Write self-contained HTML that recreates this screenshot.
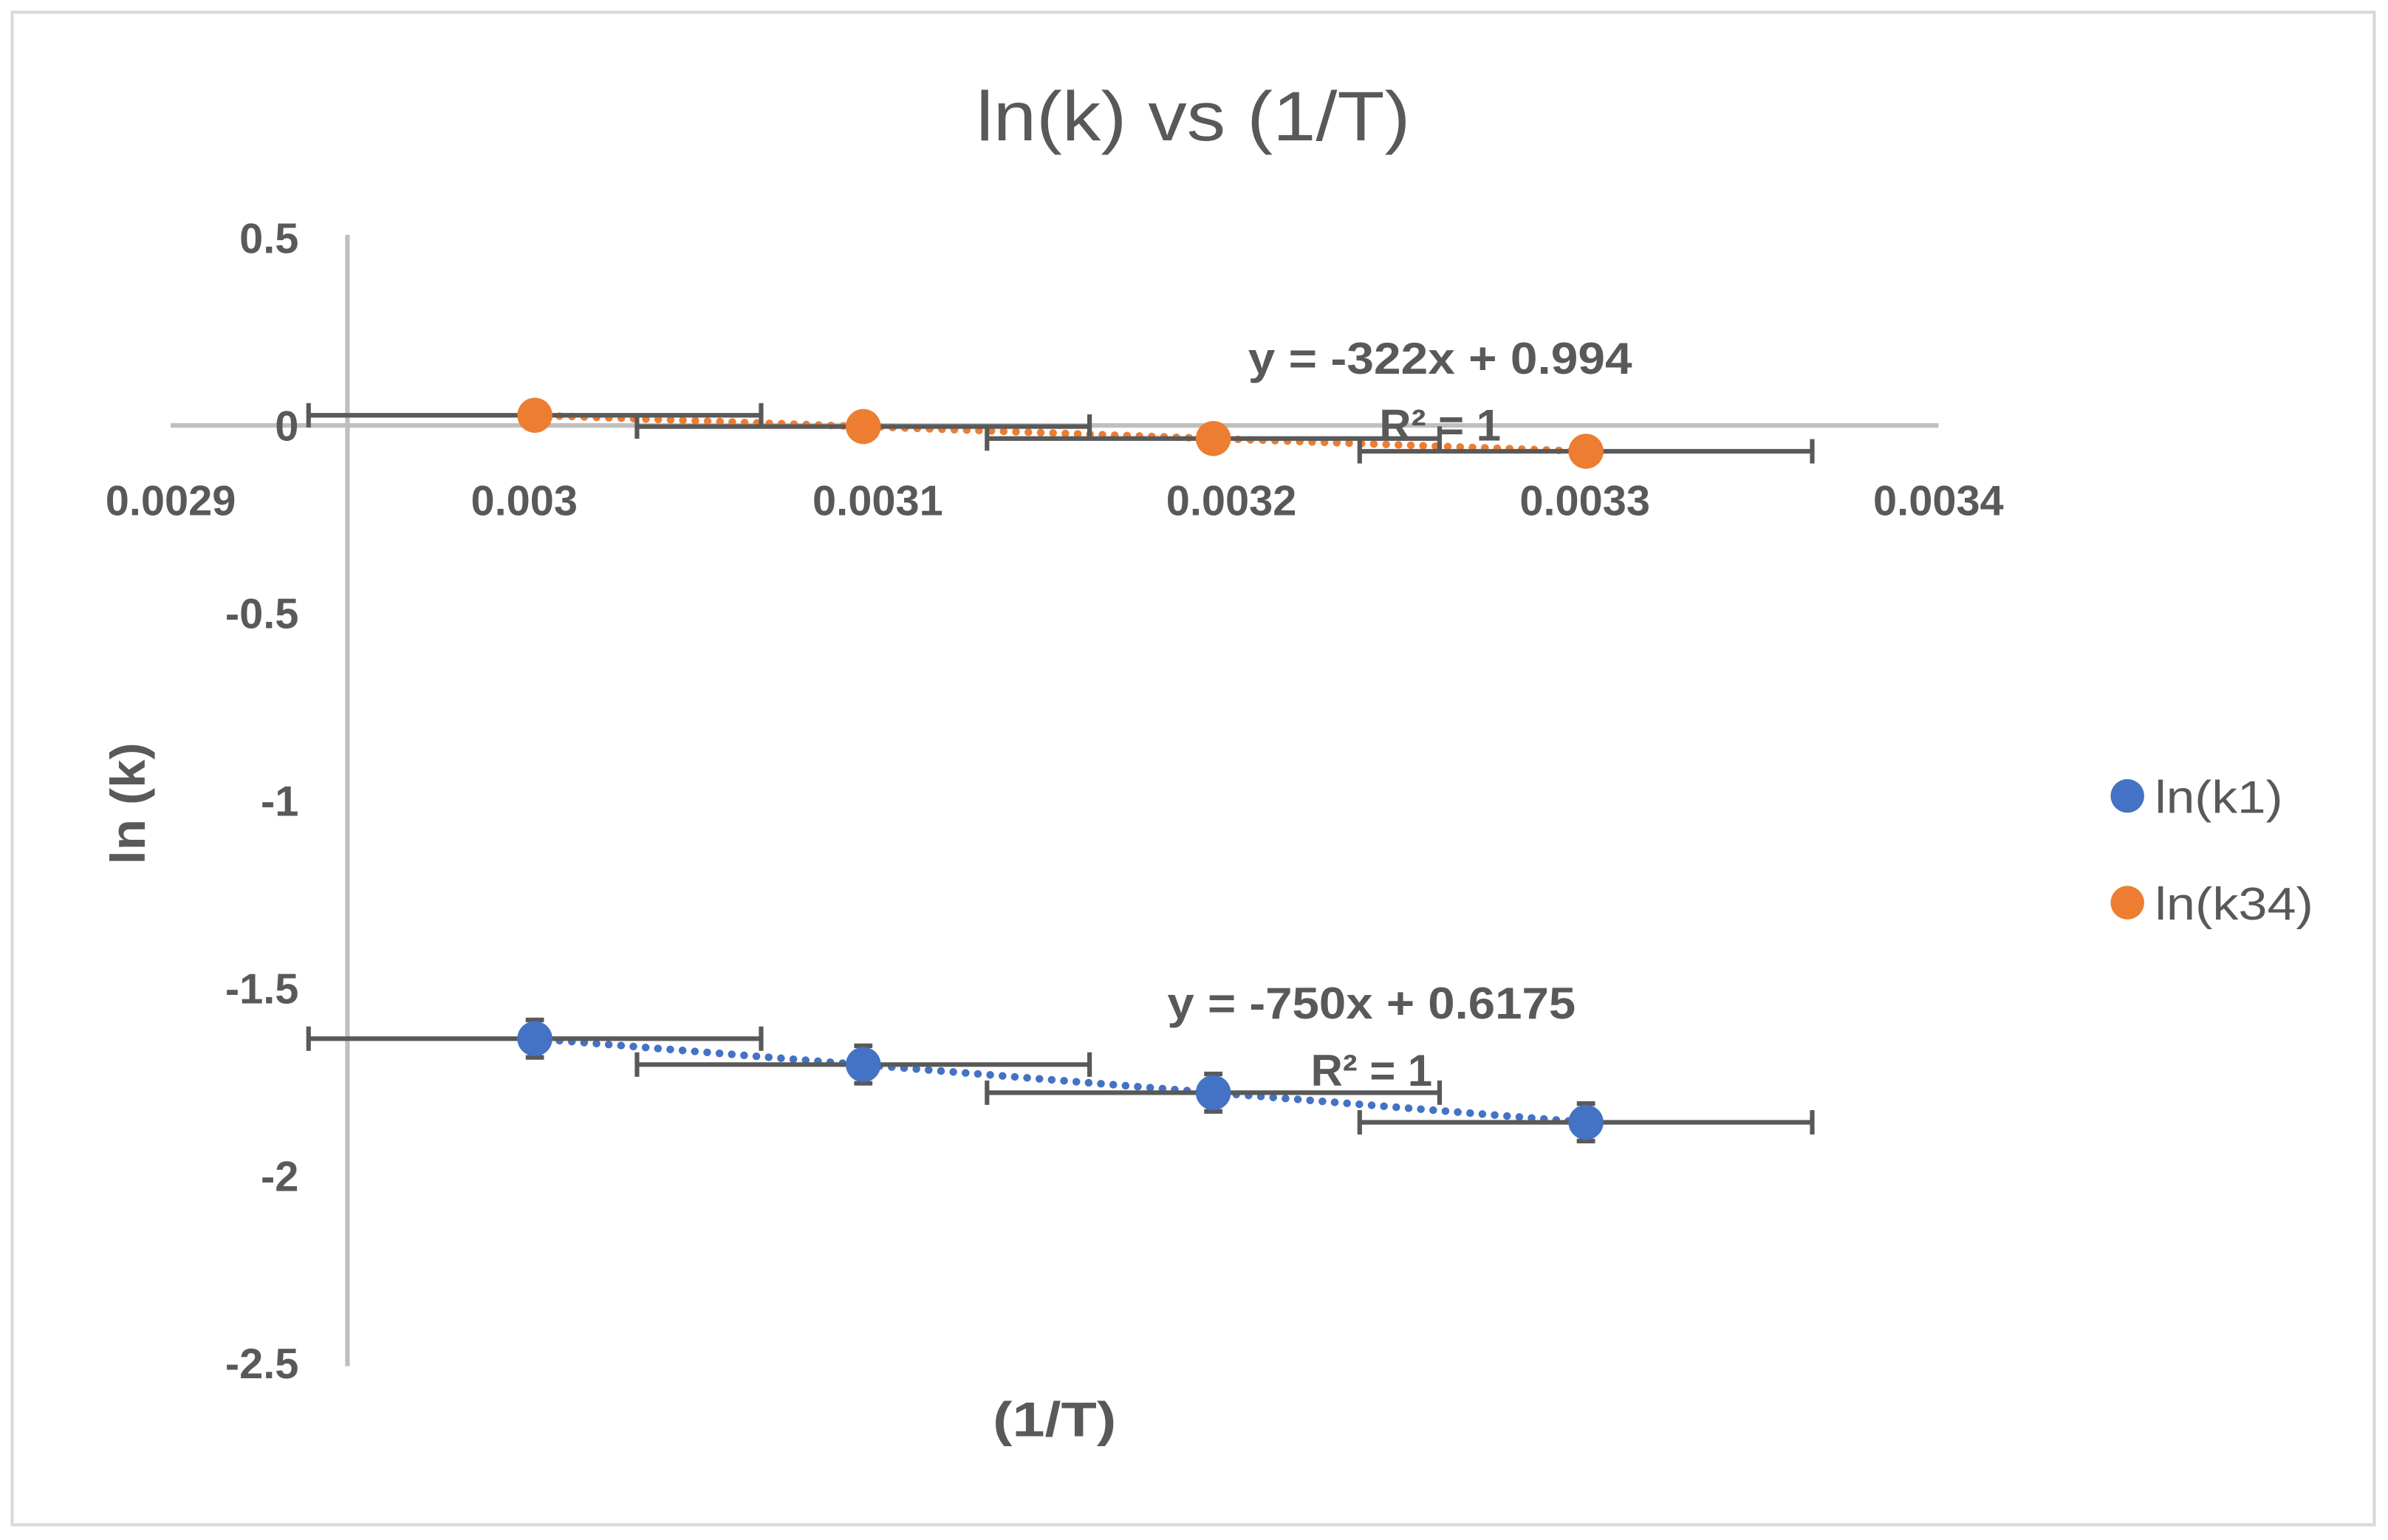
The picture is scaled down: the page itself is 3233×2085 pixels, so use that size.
<!DOCTYPE html>
<html><head><meta charset="utf-8"><style>
html,body{margin:0;padding:0;background:#fff;}
svg{display:block;}
text{font-family:"Liberation Sans",sans-serif;fill:#595959;}
</style></head><body>
<svg id="chart" width="3233" height="2085" viewBox="0 0 1567 1010" preserveAspectRatio="none" xmlns="http://www.w3.org/2000/svg">
<rect x="8" y="8" width="1550" height="992" fill="#fff" stroke="#d9d9d9" stroke-width="2"/>
<text x="783" y="92" font-size="46" text-anchor="middle" textLength="285" lengthAdjust="spacingAndGlyphs">ln(k) vs (1/T)</text>
<g id="axes"></g>
<g id="series"></g>
<text transform="translate(95,527) rotate(-90)" font-size="32" font-weight="bold" text-anchor="middle" textLength="80" lengthAdjust="spacingAndGlyphs">ln (k)</text>
<text x="692" y="942" font-size="32" font-weight="bold" text-anchor="middle" textLength="81" lengthAdjust="spacingAndGlyphs">(1/T)</text>
<g>
<circle cx="1396" cy="522" r="11" fill="#4472c4"/>
<text x="1414" y="533" font-size="30" textLength="84" lengthAdjust="spacingAndGlyphs">ln(k1)</text>
<circle cx="1396" cy="592" r="11" fill="#ed7d31"/>
<text x="1414" y="603" font-size="30" textLength="104" lengthAdjust="spacingAndGlyphs">ln(k34)</text>
</g>
</svg>
<script>
const xTicks = [0.0029, 0.003, 0.0031, 0.0032, 0.0033, 0.0034];
const xTickLabels = ["0.0029", "0.003", "0.0031", "0.0032", "0.0033", "0.0034"];
const yTicks = [0.5, 0, -0.5, -1, -1.5, -2, -2.5];
const yTickLabels = ["0.5", "0", "-0.5", "-1", "-1.5", "-2", "-2.5"];
const xValues = [0.003003, 0.0030959, 0.0031949, 0.0033003];
const k34Values = [0.027, -0.003, -0.035, -0.069];
const k1Values = [-1.635, -1.704, -1.779, -1.858];
const xErr = [0.000064, 0.000064, 0.000064, 0.000064];
const k1YErr = [0.05, 0.05, 0.05, 0.05];
const k34YErr = [0.01, 0.01, 0.01, 0.01];
const trendK34 = ["y = -322x + 0.994", "R² = 1"];
const trendK1 = ["y = -750x + 0.6175", "R² = 1"];

const NS = "http://www.w3.org/2000/svg";
function X(v){ return 112 + (v - 0.0029) / 0.0001 * 232; }
function Y(v){ return 279 - v * 246; }
function mk(parent, tag, attrs){ const e = document.createElementNS(NS, tag); for (const k in attrs) e.setAttribute(k, attrs[k]); parent.appendChild(e); return e; }
const axes = document.getElementById('axes');
const ser = document.getElementById('series');

let a = mk(axes, 'line', {x1: X(0.0029), x2: X(0.0034), y1: Y(0), y2: Y(0), stroke: '#bfbfbf', 'stroke-width': 3});


a = mk(axes, 'line', {x1: X(0.00295), x2: X(0.00295), y1: Y(0.5) - 2, y2: Y(-2.5) + 2, stroke: '#bfbfbf', 'stroke-width': 3});



xTicks.forEach((v, i) => {
  const t = mk(axes, 'text', {x: X(v), y: 338, 'font-size': 28, 'font-weight': 'bold', 'text-anchor': 'middle'});
  t.textContent = xTickLabels[i];
  
  
});
yTicks.forEach((v, i) => {
  const t = mk(axes, 'text', {x: 196, y: Y(v) + 10, 'font-size': 28, 'font-weight': 'bold', 'text-anchor': 'end'});
  t.textContent = yTickLabels[i];
  
  
});

function drawSeries(name, ys, yerr, color, eq, eqPos, eqW){
  const g = mk(ser, 'g', {});
  
  
  const tl = mk(g, 'line', {x1: X(xValues[0]), y1: Y(ys[0]), x2: X(xValues[xValues.length-1]), y2: Y(ys[ys.length-1]), stroke: color, 'stroke-width': 5, 'stroke-dasharray': '0.1 8', 'stroke-linecap': 'round'});
  
  
  xValues.forEach((xv, i) => {
    const y = Y(ys[i]);
    const eb = mk(g, 'path', {d: `M${X(xv - xErr[i])} ${y}H${X(xv + xErr[i])}M${X(xv - xErr[i])} ${y-8}V${y+8}M${X(xv + xErr[i])} ${y-8}V${y+8}` +
      `M${X(xv)} ${Y(ys[i] + yerr[i])}V${Y(ys[i] - yerr[i])}M${X(xv)-6} ${Y(ys[i] + yerr[i])}H${X(xv)+6}M${X(xv)-6} ${Y(ys[i] - yerr[i])}H${X(xv)+6}`,
      stroke: '#595959', 'stroke-width': 3, fill: 'none'});
    
    
  });
  xValues.forEach((xv, i) => {
    const c = mk(g, 'circle', {cx: X(xv), cy: Y(ys[i]), r: 11.5, fill: color});
    
    
  });
  const t1 = mk(g, 'text', {x: eqPos[0], y: eqPos[1], 'font-size': 29, 'font-weight': 'bold', 'text-anchor': 'middle', textLength: eqW, lengthAdjust: 'spacingAndGlyphs'});
  t1.textContent = eq[0];
  
  
  const t2 = mk(g, 'text', {x: eqPos[0], y: eqPos[1] + 44, 'font-size': 29, 'font-weight': 'bold', 'text-anchor': 'middle'});
  t2.textContent = eq[1];
  
  
}
drawSeries('k34', k34Values, k34YErr, '#ed7d31', trendK34, [945, 245], 252);
drawSeries('k1', k1Values, k1YErr, '#4472c4', trendK1, [900, 668], 268);
</script>
</body></html>
